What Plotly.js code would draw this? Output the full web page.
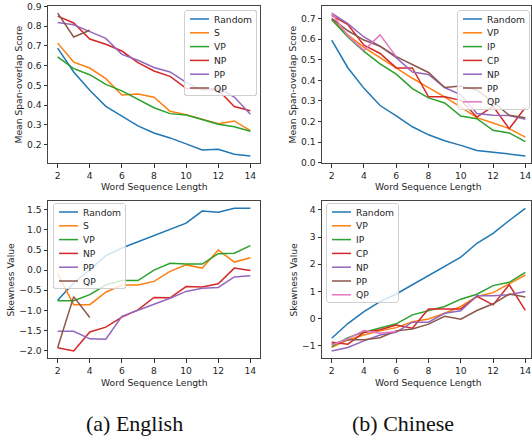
<!DOCTYPE html>
<html>
<head>
<meta charset="utf-8">
<script src="https://cdn.plot.ly/plotly-3.0.1.min.js"></script>
<style>
html,body{margin:0;padding:0;background:#fff;}
#chart{width:532px;height:441px;}
</style>
</head>
<body>
<div id="chart"></div>
<script>
// ---------- data ----------
const lengths = [2,3,4,5,6,7,8,9,10,11,12,13,14];

// (a) English – Mean Span-overlap Score
const enSpanRandom = [0.689,0.568,0.475,0.394,0.344,0.295,0.259,0.234,0.204,0.173,0.177,0.151,0.143];
const enSpanS      = [0.714,0.618,0.588,0.534,0.451,0.456,0.440,0.369,0.352,0.330,0.306,0.320,0.271];
const enSpanVP     = [0.644,0.585,0.554,0.505,0.472,0.431,0.387,0.357,0.350,0.327,0.303,0.291,0.268];
const enSpanNP     = [0.851,0.816,0.735,0.708,0.674,0.615,0.573,0.546,0.485,0.482,0.477,0.393,0.372];
const enSpanPP     = [0.819,0.807,0.772,0.738,0.657,0.627,0.591,0.568,0.515,0.475,0.488,0.441,0.354];
const enSpanQP     = [0.866,0.745,0.779];

// (b) Chinese – Mean Span-overlap Score
const zhSpanRandom = [0.595,0.461,0.361,0.278,0.228,0.175,0.136,0.107,0.085,0.060,0.052,0.043,0.034];
const zhSpanVP     = [0.694,0.620,0.560,0.510,0.460,0.410,0.365,0.320,0.270,0.219,0.193,0.166,0.125];
const zhSpanIP     = [0.695,0.610,0.540,0.480,0.430,0.360,0.315,0.290,0.227,0.214,0.158,0.145,0.103];
const zhSpanCP     = [0.715,0.670,0.570,0.530,0.460,0.460,0.320,0.320,0.303,0.222,0.274,0.166,0.268];
const zhSpanNP     = [0.725,0.675,0.610,0.565,0.510,0.440,0.428,0.365,0.330,0.239,0.231,0.230,0.211];
const zhSpanPP     = [0.700,0.640,0.595,0.565,0.515,0.475,0.438,0.365,0.372,0.352,0.295,0.231,0.219];
const zhSpanQP     = [0.725,0.615,0.545,0.620,0.515];

// (a) English – Skewness
const enSkewRandom = [-0.75,-0.32,0.01,0.36,0.55,0.70,0.86,1.02,1.17,1.47,1.44,1.54,1.54];
const enSkewS      = [-0.09,-0.86,-0.86,-0.55,-0.37,-0.37,-0.28,-0.03,0.13,0.05,0.50,0.20,0.31];
const enSkewVP     = [-0.76,-0.76,-0.61,-0.37,-0.26,-0.26,0.00,0.17,0.15,0.15,0.41,0.42,0.61];
const enSkewNP     = [-1.93,-2.01,-1.54,-1.42,-1.17,-0.99,-0.68,-0.69,-0.41,-0.42,-0.34,0.05,-0.01];
const enSkewPP     = [-1.52,-1.52,-1.71,-1.72,-1.15,-0.99,-0.85,-0.70,-0.53,-0.45,-0.43,-0.17,-0.14];
const enSkewQP     = [-1.93,-0.66,-1.18];

// (b) Chinese – Skewness
const zhSkewRandom = [-0.73,-0.19,0.25,0.62,0.90,1.24,1.57,1.90,2.26,2.77,3.14,3.61,4.06];
const zhSkewVP     = [-1.07,-0.79,-0.61,-0.46,-0.34,-0.12,-0.02,0.19,0.44,0.81,0.95,1.26,1.60];
const zhSkewIP     = [-1.04,-0.71,-0.51,-0.36,-0.20,0.13,0.28,0.44,0.71,0.89,1.21,1.33,1.70];
const zhSkewCP     = [-0.88,-0.95,-0.52,-0.42,-0.24,-0.36,0.35,0.34,0.35,0.81,0.50,1.24,0.30];
const zhSkewNP     = [-1.20,-1.07,-0.83,-0.61,-0.51,-0.14,-0.14,0.19,0.28,0.84,0.84,0.87,0.99];
const zhSkewPP     = [-0.95,-0.79,-0.79,-0.71,-0.46,-0.39,-0.21,0.08,-0.03,0.29,0.54,0.90,0.79];
const zhSkewQP     = [-0.98,-0.75,-0.45,-0.55,-0.48];

// ---------- styling ----------
const C = {Random:'#1f77b4', S:'#ff7f0e', VP:'#2ca02c', NP:'#d62728', PP:'#9467bd', QP:'#8c564b'};
const CZ = {Random:'#1f77b4', VP:'#ff7f0e', IP:'#2ca02c', CP:'#d62728', NP:'#9467bd', PP:'#8c564b', QP:'#e377c2'};

function tr(name, y, color, xa, ya, leg){
  return {x: lengths.slice(0, y.length), y: y, name: name, type:'scatter', mode:'lines',
          line:{color: color, width:1.5}, xaxis: xa, yaxis: ya, legend: leg};
}

const data = [
  tr('Random', enSpanRandom, C.Random, 'x', 'y', 'legend'),
  tr('S',      enSpanS,      C.S,      'x', 'y', 'legend'),
  tr('VP',     enSpanVP,     C.VP,     'x', 'y', 'legend'),
  tr('NP',     enSpanNP,     C.NP,     'x', 'y', 'legend'),
  tr('PP',     enSpanPP,     C.PP,     'x', 'y', 'legend'),
  tr('QP',     enSpanQP,     C.QP,     'x', 'y', 'legend'),

  tr('Random', zhSpanRandom, CZ.Random, 'x2', 'y2', 'legend2'),
  tr('VP',     zhSpanVP,     CZ.VP,     'x2', 'y2', 'legend2'),
  tr('IP',     zhSpanIP,     CZ.IP,     'x2', 'y2', 'legend2'),
  tr('CP',     zhSpanCP,     CZ.CP,     'x2', 'y2', 'legend2'),
  tr('NP',     zhSpanNP,     CZ.NP,     'x2', 'y2', 'legend2'),
  tr('PP',     zhSpanPP,     CZ.PP,     'x2', 'y2', 'legend2'),
  tr('QP',     zhSpanQP,     CZ.QP,     'x2', 'y2', 'legend2'),

  tr('Random', enSkewRandom, C.Random, 'x3', 'y3', 'legend3'),
  tr('S',      enSkewS,      C.S,      'x3', 'y3', 'legend3'),
  tr('VP',     enSkewVP,     C.VP,     'x3', 'y3', 'legend3'),
  tr('NP',     enSkewNP,     C.NP,     'x3', 'y3', 'legend3'),
  tr('PP',     enSkewPP,     C.PP,     'x3', 'y3', 'legend3'),
  tr('QP',     enSkewQP,     C.QP,     'x3', 'y3', 'legend3'),

  tr('Random', zhSkewRandom, CZ.Random, 'x4', 'y4', 'legend4'),
  tr('VP',     zhSkewVP,     CZ.VP,     'x4', 'y4', 'legend4'),
  tr('IP',     zhSkewIP,     CZ.IP,     'x4', 'y4', 'legend4'),
  tr('CP',     zhSkewCP,     CZ.CP,     'x4', 'y4', 'legend4'),
  tr('NP',     zhSkewNP,     CZ.NP,     'x4', 'y4', 'legend4'),
  tr('PP',     zhSkewPP,     CZ.PP,     'x4', 'y4', 'legend4'),
  tr('QP',     zhSkewQP,     CZ.QP,     'x4', 'y4', 'legend4')
];

const W = 532, H = 441;
const px = v => v / W;
const py = v => 1 - v / H;
const FONT = 'DejaVu Sans, sans-serif';
const FS = 9.2;
const TXT = '#262626';

function xax(domain, range, anchor){
  return {domain: domain, range: range, anchor: anchor, tickmode:'linear', tick0:2, dtick:2,
          ticks:'outside', ticklen:3.5, tickwidth:1, tickcolor:'#333',
          showline:true, mirror:true, linecolor:'#444', linewidth:1, showgrid:false, zeroline:false,
          tickfont:{family:FONT, size:FS, color:TXT}, fixedrange:true};
}
function yax(domain, range, anchor, dtick, fmt){
  return {domain: domain, range: range, anchor: anchor, tickmode:'linear', tick0:0, dtick:dtick,
          tickformat: fmt, ticks:'outside', ticklen:3.5, tickwidth:1, tickcolor:'#333',
          showline:true, mirror:true, linecolor:'#444', linewidth:1, showgrid:false, zeroline:false,
          tickfont:{family:FONT, size:FS, color:TXT}, fixedrange:true};
}
function leg(x, y, xanchor){
  return {x:x, y:y, xanchor:xanchor, yanchor:'top', bgcolor:'rgba(255,255,255,0.8)',
          bordercolor:'#d0d0d0', borderwidth:1, font:{family:FONT, size:FS, color:TXT},
          itemwidth:30, tracegroupgap:0};
}
function ann(text, x, y, opts){
  return Object.assign({text:text, x:x, y:y, xref:'paper', yref:'paper', showarrow:false,
          xanchor:'center', yanchor:'middle', font:{family:FONT, size:FS, color:TXT}}, opts||{});
}

const xdL = [px(48), px(260)], xdR = [px(322), px(531)];
const ydT = [py(163), py(6)], ydB = [py(358), py(201)];
const CAPFONT = {family:'Liberation Serif, Times New Roman, serif', size:22, color:'#111'};

const layout = {
  width: W, height: H, margin:{l:0, r:0, t:0, b:0},
  paper_bgcolor:'#fff', plot_bgcolor:'#fff', showlegend:true,
  xaxis:  xax(xdL, [1.4, 14.6], 'y'),
  yaxis:  yax(ydT, [0.107, 0.902], 'x', 0.1, '.1f'),
  xaxis2: xax(xdR, [1.4, 14.35], 'y2'),
  yaxis2: yax(ydT, [-0.0005, 0.76], 'x2', 0.1, '.1f'),
  xaxis3: xax(xdL, [1.4, 14.6], 'y3'),
  yaxis3: yax(ydB, [-2.187, 1.72], 'x3', 0.5, '.1f'),
  xaxis4: xax(xdR, [1.4, 14.35], 'y4'),
  yaxis4: yax(ydB, [-1.46, 4.33], 'x4', 1, 'd'),
  legend:  leg(px(257), py(10), 'right'),
  legend2: leg(px(530), py(10), 'right'),
  legend3: leg(px(53),  py(203), 'left'),
  legend4: leg(px(326), py(203), 'left'),
  annotations: [
    ann('Word Sequence Length', px(154), py(186)),
    ann('Word Sequence Length', px(428), py(186)),
    ann('Word Sequence Length', px(154), py(382)),
    ann('Word Sequence Length', px(428), py(382)),
    ann('Mean Span-overlap Score', px(18), py(84.5), {textangle:-90}),
    ann('Mean Span-overlap Score', px(292), py(84.5), {textangle:-90}),
    ann('Skewness Value', px(10), py(279.5), {textangle:-90}),
    ann('Skewness Value', px(293), py(279.5), {textangle:-90}),
    ann('(a) English', px(134), py(423), {font:CAPFONT}),
    ann('(b) Chinese', px(403), py(423), {font:CAPFONT})
  ]
};

// Make the legends as compact as matplotlib's (row pitch ~13.8px, short line samples).
// Each legend row is shifted as a whole, so text and sample keep their own positions.
function compactLegends(gd){
  const STEP = 13.8, TOP = 8.5, PADB = 7.5, BOXW = 72, LINE = 19, SHIFT = 11;
  const parse = t => {
    const m = /translate\(\s*([-\d.eE]+)[\s,]*([-\d.eE]+)?\s*\)/.exec(t || '');
    return m ? [parseFloat(m[1]), parseFloat(m[2] || 0)] : [0, 0];
  };
  gd.querySelectorAll('g.infolayer > g').forEach(g => {
    const cls = (g.getAttribute('class') || '').trim();
    if (!/^legend\d*$/.test(cls)) return;
    const traces = g.querySelectorAll('g.traces');
    const bg = g.querySelector('rect.bg');
    if (!traces.length || !bg) return;
    const bgY = parseFloat(bg.getAttribute('y') || 0);
    traces.forEach((t, i) => {
      const p = parse(t.getAttribute('transform'));
      t.setAttribute('transform', 'translate(' + (p[0] - SHIFT) + ',' + (bgY + TOP + i * STEP) + ')');
      t.querySelectorAll('path.js-line').forEach(pth => pth.setAttribute('d', 'M' + (5 + SHIFT) + ',0h' + LINE));
    });
    const oldW = parseFloat(bg.getAttribute('width'));
    const newH = TOP + (traces.length - 1) * STEP + PADB;
    bg.setAttribute('height', newH);
    bg.setAttribute('width', BOXW);
    bg.setAttribute('rx', 3); bg.setAttribute('ry', 3);
    const gp = parse(g.getAttribute('transform'));
    const isRight = (cls === 'legend' || cls === 'legend2');
    const nx = isRight ? gp[0] + (oldW - BOXW) : gp[0];
    g.setAttribute('transform', 'translate(' + nx + ',' + gp[1] + ')');
  });
}

Plotly.newPlot('chart', data, layout, {staticPlot:true, displayModeBar:false})
  .then(gd => { try { compactLegends(gd); } catch (e) { console.error(e); } });
</script>
</body>
</html>
